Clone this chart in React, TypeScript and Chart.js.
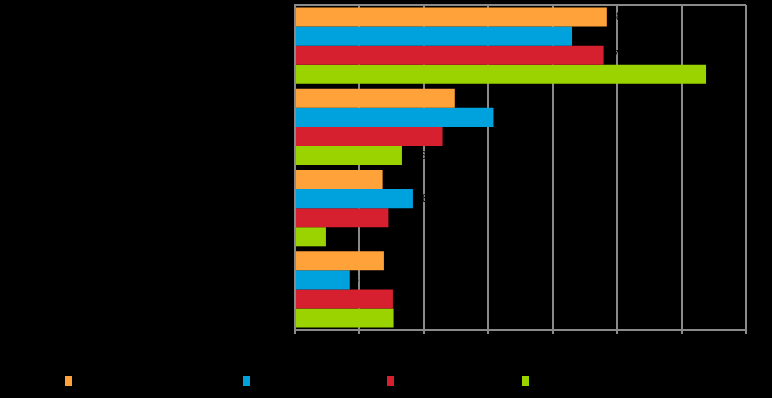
import React, { useEffect, useRef } from "react";
import { Chart, registerables } from "chart.js";

Chart.register(...registerables);

const categories = ["Category 1", "Category 2", "Category 3", "Category 4"];
const seriesNames = ["Series 1", "Series 2", "Series 3", "Series 4"];
const series1 = [48.4, 24.8, 13.6, 13.8];
const series2 = [43.0, 30.8, 18.3, 8.5];
const series3 = [47.9, 22.9, 14.5, 15.2];
const series4 = [63.8, 16.6, 4.8, 15.3];
const xTicks = [0, 10, 20, 30, 40, 50, 60, 70];

const colors = ["#ffa23a", "#00a2de", "#d6202f", "#9ad300"];
const legendWidths = [178, 144, 135, 140];

export default function App() {
  const ref = useRef<HTMLCanvasElement | null>(null);

  useEffect(() => {
    if (!ref.current) return;
    const frame = {
      id: "frame",
      beforeDatasetsDraw(chart: any) {
        const { ctx, chartArea } = chart;
        ctx.save();
        ctx.strokeStyle = "#8a8a8a";
        ctx.lineWidth = 2;
        ctx.beginPath();
        ctx.moveTo(chartArea.left, chartArea.top);
        ctx.lineTo(chartArea.right, chartArea.top);
        ctx.stroke();
        ctx.restore();
      },
      afterDatasetsDraw(chart: any) {
        const { ctx } = chart;
        ctx.save();
        ctx.fillStyle = "#000";
        ctx.font = "11px Arial, 'Liberation Sans', sans-serif";
        ctx.textBaseline = "middle";
        chart.data.datasets.forEach((ds: any, i: number) => {
          const meta = chart.getDatasetMeta(i);
          meta.data.forEach((bar: any, j: number) => {
            ctx.fillText(String(ds.data[j]), bar.x + 3, bar.y);
          });
        });
        ctx.restore();
      },
    };
    const chart = new Chart(ref.current, {
      type: "bar",
      data: {
        labels: categories,
        datasets: [series1, series2, series3, series4].map((d, i) => ({
          label: seriesNames[i],
          data: d,
          backgroundColor: colors[i],
          borderWidth: 0,
          categoryPercentage: 0.94,
          barPercentage: 1.0,
        })),
      },
      options: {
        indexAxis: "y",
        responsive: false,
        animation: false,
        layout: { padding: { top: 5, right: 26, left: 0, bottom: 0 } },
        plugins: { legend: { display: false }, tooltip: { enabled: false } },
        scales: {
          x: {
            min: 0,
            max: 70,
            afterBuildTicks: (scale: any) => {
              scale.ticks = xTicks.map((v) => ({ value: v }));
            },
            grid: { color: "#8a8a8a", lineWidth: 2, tickLength: 4, drawTicks: true },
            border: { color: "#8a8a8a", width: 2 },
            ticks: { color: "#000", font: { size: 12 } },
            afterFit: (scale: any) => {
              scale.height = 68;
              scale.paddingLeft = 0;
              scale.paddingRight = 0;
            },
          },
          y: {
            grid: { display: false, drawTicks: false },
            border: { color: "#8a8a8a", width: 2 },
            ticks: { color: "#000", font: { size: 12 } },
            afterFit: (scale: any) => {
              scale.width = 295;
              scale.paddingTop = 0;
              scale.paddingBottom = 0;
            },
          },
        },
      },
      plugins: [frame],
    });
    return () => chart.destroy();
  }, []);

  return (
    <div style={{ position: "fixed", left: 0, top: 0, width: 772, height: 398, background: "#000", overflow: "hidden" }}>
      <canvas ref={ref} width={772} height={398} style={{ display: "block" }} />
      <div style={{ position: "absolute", left: 65, top: 376, display: "flex", fontFamily: "Arial, 'Liberation Sans', sans-serif", fontSize: 12, color: "#000" }}>
        {seriesNames.map((n, i) => (
          <div key={n} style={{ width: legendWidths[i], display: "flex", alignItems: "center", height: 10 }}>
            <span style={{ display: "inline-block", width: 7, height: 10, background: colors[i], marginRight: 4, flex: "none" }} />
            <span>{n}</span>
          </div>
        ))}
      </div>
    </div>
  );
}
